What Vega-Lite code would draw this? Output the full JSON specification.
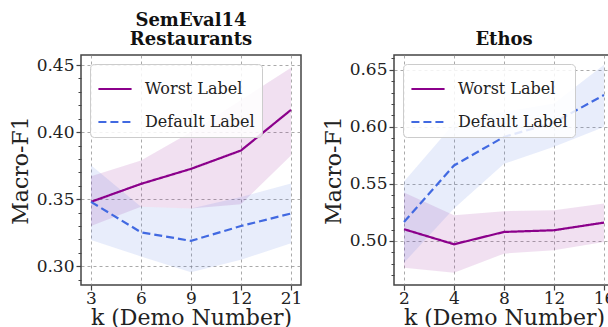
{
  "$schema": "https://vega.github.io/schema/vega-lite/v6.json",
  "padding": {"left": 8, "top": 11, "right": 0, "bottom": 0},
  "background": "white",
  "config": {
    "font": "DejaVu Serif",
    "view": {"stroke": "#444", "strokeWidth": 1.5},
    "axis": {
      "labelFont": "DejaVu Serif", "labelFontSize": 17, "labelColor": "#222",
      "titleFont": "DejaVu Serif", "titleFontSize": 22, "titleFontWeight": "normal", "titleColor": "#222",
      "domain": false, "tickColor": "#444", "tickSize": 5, "tickWidth": 1.2,
      "gridColor": "#888", "gridDash": [3, 3], "gridWidth": 0.8, "gridOpacity": 0.9,
      "labelPadding": 2
    },
    "axisX": {"labelPadding": 0, "titlePadding": 1},
    "title": {"font": "DejaVu Serif", "fontSize": 18, "fontWeight": "bold", "color": "#111", "lineHeight": 19, "offset": 6},
    "legend": {
      "orient": "top-left", "offset": 9, "title": null,
      "labelFont": "DejaVu Serif", "labelFontSize": 16, "labelColor": "#222",
      "symbolType": "stroke", "symbolSize": 1100, "symbolStrokeWidth": 2.2, "symbolOpacity": 1,
      "fillColor": "rgba(255,255,255,0.85)", "strokeColor": "#ccc", "cornerRadius": 4,
      "padding": 7, "rowPadding": 7, "labelOffset": 12
    }
  },
  "datasets": {
    "sem": [
      {"k": 3, "series": "Worst Label", "mean": 0.348, "lo": 0.330, "hi": 0.367},
      {"k": 6, "series": "Worst Label", "mean": 0.3614, "lo": 0.3443, "hi": 0.3789},
      {"k": 9, "series": "Worst Label", "mean": 0.3726, "lo": 0.343, "hi": 0.400},
      {"k": 12, "series": "Worst Label", "mean": 0.3863, "lo": 0.3463, "hi": 0.424},
      {"k": 21, "series": "Worst Label", "mean": 0.4166, "lo": 0.3826, "hi": 0.448},
      {"k": 3, "series": "Default Label", "mean": 0.348, "lo": 0.3196, "hi": 0.3752},
      {"k": 6, "series": "Default Label", "mean": 0.3253, "lo": 0.3073, "hi": 0.3443},
      {"k": 9, "series": "Default Label", "mean": 0.3189, "lo": 0.2956, "hi": 0.343},
      {"k": 12, "series": "Default Label", "mean": 0.330, "lo": 0.3048, "hi": 0.3517},
      {"k": 21, "series": "Default Label", "mean": 0.3393, "lo": 0.3171, "hi": 0.3616}
    ],
    "ethos": [
      {"k": 2, "series": "Worst Label", "mean": 0.5103, "lo": 0.4766, "hi": 0.5424},
      {"k": 4, "series": "Worst Label", "mean": 0.4971, "lo": 0.4722, "hi": 0.5226},
      {"k": 8, "series": "Worst Label", "mean": 0.5079, "lo": 0.4889, "hi": 0.5261},
      {"k": 12, "series": "Worst Label", "mean": 0.5094, "lo": 0.4918, "hi": 0.527},
      {"k": 16, "series": "Worst Label", "mean": 0.5161, "lo": 0.4991, "hi": 0.5328},
      {"k": 2, "series": "Default Label", "mean": 0.5167, "lo": 0.4809, "hi": 0.5521},
      {"k": 4, "series": "Default Label", "mean": 0.5662, "lo": 0.5284, "hi": 0.6029},
      {"k": 8, "series": "Default Label", "mean": 0.5912, "lo": 0.5676, "hi": 0.6132},
      {"k": 12, "series": "Default Label", "mean": 0.6038, "lo": 0.5825, "hi": 0.6205},
      {"k": 16, "series": "Default Label", "mean": 0.6279, "lo": 0.60, "hi": 0.6544}
    ]
  },
  "resolve": {"scale": {"color": "independent", "strokeDash": "independent", "y": "independent", "x": "independent"}},
  "spacing": 18,
  "hconcat": [
    {
      "title": {"text": ["SemEval14", "Restaurants"]},
      "width": 220, "height": 230,
      "data": {"name": "sem"},
      "encoding": {
        "x": {"field": "k", "type": "ordinal", "scale": {"type": "point", "padding": 0.2},
              "axis": {"labelAngle": 0, "title": "k (Demo Number)", "grid": true}}
      },
      "resolve": {"axis": {"y": "independent"}},
      "layer": [
        {"mark": {"type": "area", "opacity": 0.12},
         "encoding": {
           "y": {"field": "lo", "type": "quantitative",
                 "scale": {"domain": [0.286, 0.4575], "nice": false, "zero": false},
                 "axis": {"values": [0.30, 0.35, 0.40, 0.45], "format": ".2f", "title": "Macro-F1", "grid": true}},
           "y2": {"field": "hi"},
           "color": {"field": "series", "type": "nominal",
                     "legend": {"labelFont": "DejaVu Serif", "labelFontSize": 16},
                     "scale": {"domain": ["Worst Label", "Default Label"], "range": ["#8B008B", "#4169E1"]}}
         }},
        {"mark": {"type": "line", "strokeWidth": 2.2},
         "encoding": {
           "y": {"field": "mean", "type": "quantitative",
                 "axis": {"orient": "left", "values": [0.29, 0.31, 0.32, 0.33, 0.34, 0.36, 0.37, 0.38, 0.39, 0.41, 0.42, 0.43, 0.44], "labels": false, "title": null, "grid": false, "tickSize": 3, "tickWidth": 1}},
           "color": {"field": "series", "type": "nominal",
                     "legend": {"labelFont": "DejaVu Serif", "labelFontSize": 16},
                     "scale": {"domain": ["Worst Label", "Default Label"], "range": ["#8B008B", "#4169E1"]}},
           "strokeDash": {"field": "series", "type": "nominal",
                          "legend": {"labelFont": "DejaVu Serif", "labelFontSize": 16},
                          "scale": {"domain": ["Worst Label", "Default Label"], "range": [[1, 0], [8, 4]]}}
         }}
      ]
    },
    {
      "title": {"text": "Ethos"},
      "width": 220, "height": 230,
      "data": {"name": "ethos"},
      "encoding": {
        "x": {"field": "k", "type": "ordinal", "scale": {"type": "point", "padding": 0.2},
              "axis": {"labelAngle": 0, "title": "k (Demo Number)", "grid": true}}
      },
      "resolve": {"axis": {"y": "independent"}},
      "layer": [
        {"mark": {"type": "area", "opacity": 0.12},
         "encoding": {
           "y": {"field": "lo", "type": "quantitative",
                 "scale": {"domain": [0.4614, 0.663], "nice": false, "zero": false},
                 "axis": {"values": [0.50, 0.55, 0.60, 0.65], "format": ".2f", "title": "Macro-F1", "grid": true}},
           "y2": {"field": "hi"},
           "color": {"field": "series", "type": "nominal",
                     "legend": {"labelFont": "DejaVu Serif", "labelFontSize": 16},
                     "scale": {"domain": ["Worst Label", "Default Label"], "range": ["#8B008B", "#4169E1"]}}
         }},
        {"mark": {"type": "line", "strokeWidth": 2.2},
         "encoding": {
           "y": {"field": "mean", "type": "quantitative",
                 "axis": {"orient": "left", "values": [0.47, 0.48, 0.49, 0.51, 0.52, 0.53, 0.54, 0.56, 0.57, 0.58, 0.59, 0.61, 0.62, 0.63, 0.64, 0.66], "labels": false, "title": null, "grid": false, "tickSize": 3, "tickWidth": 1}},
           "color": {"field": "series", "type": "nominal",
                     "legend": {"labelFont": "DejaVu Serif", "labelFontSize": 16},
                     "scale": {"domain": ["Worst Label", "Default Label"], "range": ["#8B008B", "#4169E1"]}},
           "strokeDash": {"field": "series", "type": "nominal",
                          "legend": {"labelFont": "DejaVu Serif", "labelFontSize": 16},
                          "scale": {"domain": ["Worst Label", "Default Label"], "range": [[1, 0], [8, 4]]}}
         }}
      ]
    }
  ]
}
